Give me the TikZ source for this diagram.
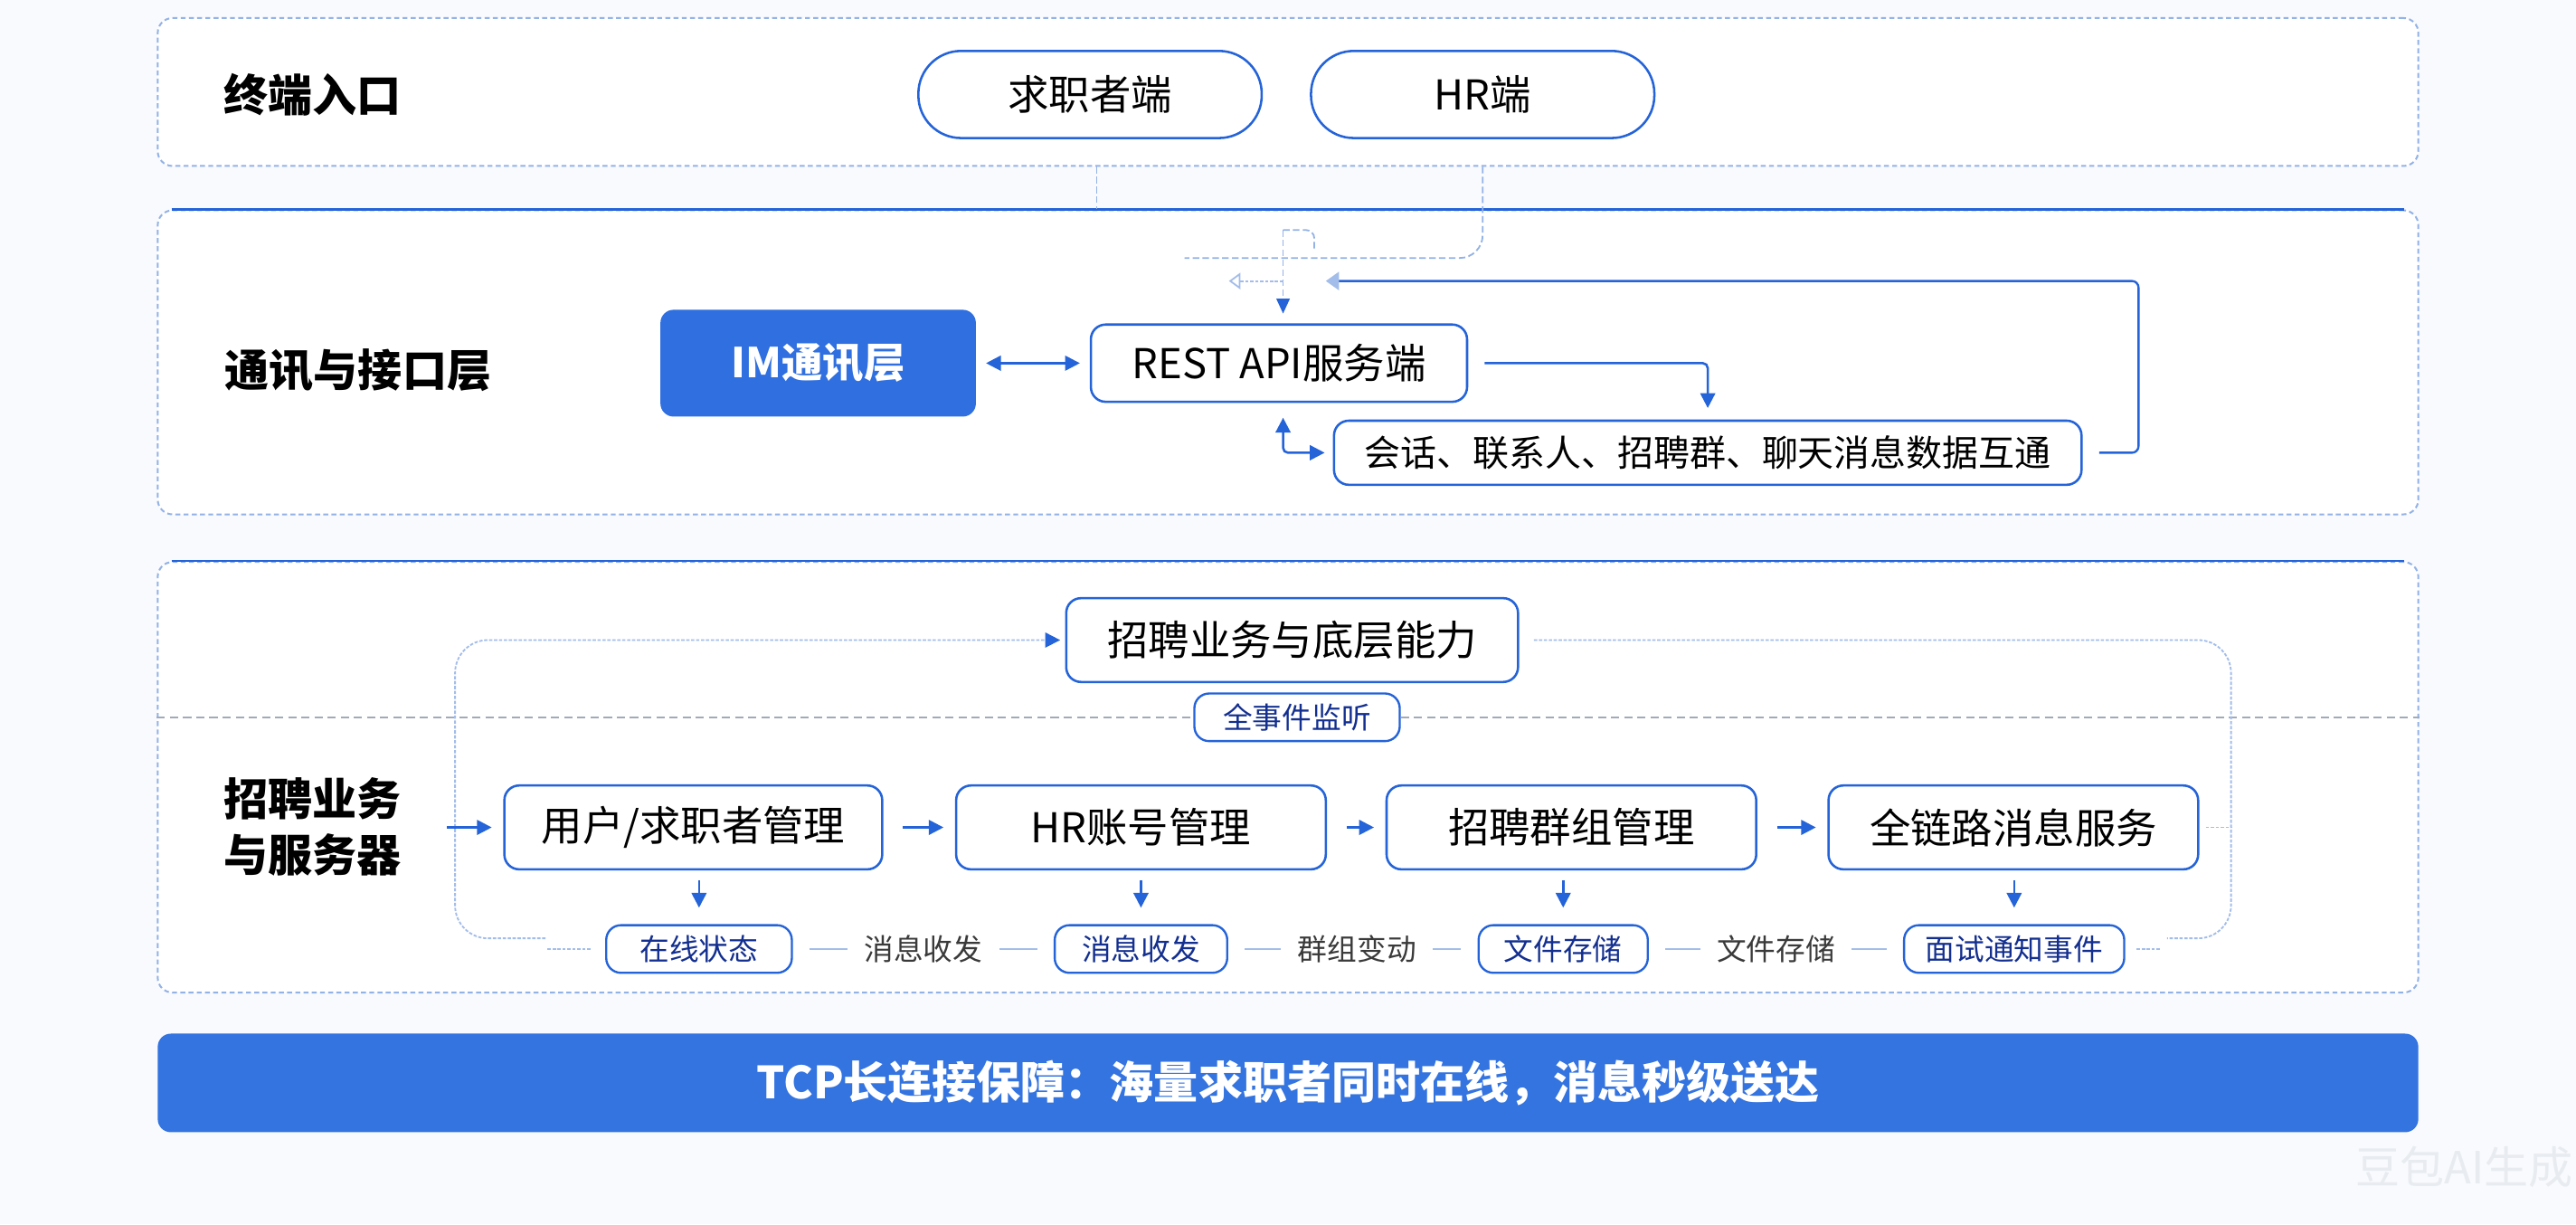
\documentclass[tikz,border=0pt]{standalone}
\usepackage{fontspec}
\setmainfont{Noto Sans CJK SC}
\usetikzlibrary{arrows.meta,calc}
\definecolor{bgc}{HTML}{F8FAFD}
\definecolor{mainblue}{HTML}{2463D8}
\definecolor{fillblue}{HTML}{2F6FE0}
\definecolor{barblue}{HTML}{3474E0}
\definecolor{panelline}{HTML}{93B2E6}
\definecolor{lightline}{HTML}{A3BDEA}
\definecolor{graydash}{HTML}{A2AABA}
\definecolor{navy}{HTML}{132F8F}
\definecolor{grytext}{HTML}{3A3A3A}
\definecolor{wm}{HTML}{E8EBF0}
\newcommand{\myfs}[1]{\fontsize{#1pt}{#1pt}\selectfont}
\begin{document}
\begin{tikzpicture}[x=1pt,y=-1pt,
  >={Triangle[length=9pt,width=9pt]},
  layerpanel/.style={draw=panelline, line width=1.1pt, dash pattern=on 3pt off 2pt, rounded corners=9pt, fill=white, inner sep=0pt, minimum width=1376pt},
  topline/.style={draw=mainblue, line width=1.4pt},
  layertitle/.style={font=\myfs{27}\bfseries, inner sep=0pt, align=center},
  mainbox/.style={draw=mainblue, line width=1.4pt, rounded corners=9pt, fill=white, inner sep=0pt, font=\myfs{25}},
  tagbox/.style={draw=mainblue, line width=1.3pt, rounded corners=9pt, fill=white, inner sep=0pt, minimum height=29pt, font=\myfs{18}, text=navy},
  midtext/.style={inner sep=0pt, font=\myfs{18}, text=grytext},
  arrowline/.style={draw=mainblue, line width=1.4pt, ->},
  link/.style={draw=lightline, line width=1.4pt},
  loopline/.style={draw=lightline, line width=1pt, dash pattern=on 2pt off 1pt},
  dashv/.style={draw=panelline, line width=1pt, dash pattern=on 4pt off 2pt},
  graydashed/.style={draw=graydash, line width=1.2pt, dash pattern=on 5pt off 3pt}
]
\useasboundingbox (0,0) rectangle (1568,745);
\fill[bgc] (0,0) rectangle (1568,745);

% panels
\node[layerpanel, minimum height=90pt] (p1) at (784,56) {};
\node[layerpanel, minimum height=185pt] (p2) at (784,220.5) {};
\node[layerpanel, minimum height=262pt] (p3) at (784,473) {};
\draw[topline] ([xshift=9pt]p2.north west) -- ([xshift=-9pt]p2.north east);
\draw[topline] ([xshift=9pt]p3.north west) -- ([xshift=-9pt]p3.north east);

% layer 1
\node[layertitle] (t1) at (190,57.5) {终端入口};
\node[mainbox, rounded corners=26pt, minimum width=209pt, minimum height=53pt] (seeker) at (663.5,57.5) {求职者端};
\node[mainbox, rounded corners=26pt, minimum width=209pt, minimum height=53pt] (hrend) at (902.5,57.5) {HR端};

% layer 2
\node[layertitle] (t2) at (218,225.5) {通讯与接口层};
\node[fill=fillblue, rounded corners=8pt, minimum width=192pt, minimum height=65pt, text=white, font=\myfs{25}\bfseries, inner sep=0pt] (im) at (498,221) {IM通讯层};
\node[mainbox, minimum width=229pt, minimum height=47pt] (rest) at (778.5,221) {REST API服务端};
\node[mainbox, minimum width=455pt, minimum height=39pt, font=\myfs{22}] (conv) at (1039.5,275.5) {会话、联系人、招聘群、聊天消息数据互通};

% layer 3
\node[layertitle, font=\fontsize{27pt}{34pt}\selectfont\bfseries] (t3) at (190,503) {招聘业务\\与服务器};
\node[mainbox, minimum width=275pt, minimum height=51pt] (cap) at (786.5,389.5) {招聘业务与底层能力};
\node[tagbox, minimum width=125pt] (listen) at (789.5,436.5) {全事件监听};
\node[mainbox, minimum width=230pt, minimum height=51pt] (user) at (422,503.5) {用户/求职者管理};
\node[mainbox, minimum width=225pt, minimum height=51pt] (hracct) at (694.5,503.5) {HR账号管理};
\node[mainbox, minimum width=225pt, minimum height=51pt] (group) at (956.5,503.5) {招聘群组管理};
\node[mainbox, minimum width=225pt, minimum height=51pt] (fullmsg) at (1225.5,503.5) {全链路消息服务};
\node[tagbox, minimum width=113pt] (online) at (425.5,577.5) {在线状态};
\node[tagbox, minimum width=105pt] (msgtag) at (694.5,577.5) {消息收发};
\node[tagbox, minimum width=103pt] (filetag) at (951.5,577.5) {文件存储};
\node[tagbox, minimum width=134pt] (interview) at (1226,577.5) {面试通知事件};
\node[midtext] (m1) at (562,577.5) {消息收发};
\node[midtext] (m2) at (826,577.5) {群组变动};
\node[midtext] (m3) at (1081,577.5) {文件存储};

% bottom bar
\node[fill=barblue, rounded corners=8pt, minimum width=1376pt, minimum height=60pt, inner sep=0pt, text=white, font=\myfs{27}\bfseries] (bar) at (784,659) {TCP长连接保障：海量求职者同时在线，消息秒级送达};
\node[text=wm, font=\myfs{27}, inner sep=0pt] (wmk) at (1500,710) {豆包AI生成};

% connectors between layer 1 and 2
\coordinate (sk) at ([xshift=4pt]seeker.south);
\draw[dashv] (sk |- p1.south) -- (sk |- p2.north);
\coordinate (hrdashend) at (721,157);
\draw[dashv, rounded corners=14pt] (hrend.south |- p1.south) -- (hrend.south |- hrdashend) -- (hrdashend);

% layer 2 connectors
\coordinate (apiIn) at (781,140);
\coordinate (ret) at (807,171);
\draw[dashv, -{Triangle[length=9pt,width=8pt,color=mainblue]}, shorten >=6pt] (apiIn) -- (apiIn |- rest.north);
\draw[dashv, rounded corners=5pt] (apiIn) -- ++(19,0) -- ++(0,12);
\draw[loopline, -{Triangle[open,length=7pt,width=10pt]}] (apiIn |- ret) -- ++(-33,0);
\draw[arrowline, <->, shorten <=6pt, shorten >=6pt] (im) -- (rest);
\draw[arrowline, rounded corners=3pt, shorten <=10pt] (rest.east) -| ([yshift=7pt]conv.north);
\draw[arrowline, <->, rounded corners=3pt] ([xshift=2.5pt,yshift=-9pt]rest.south) |- ([xshift=-5pt]conv.west);
\draw[draw=mainblue, line width=1.3pt, rounded corners=4pt, -{Triangle[length=8pt,width=11pt,color=lightline]}] ([xshift=10pt]conv.east) -- ++(24,0) |- (ret);

% layer 3 connectors
\draw[graydashed] (p3.west |- listen.center) -- (listen.west);
\draw[graydashed] (listen.east) -- (p3.east |- listen.center);
\coordinate (loopA) at (332,571);
\coordinate (loopB) at (1319,571);
\draw[loopline, rounded corners=20pt, -{Triangle[length=9pt,width=9pt,color=mainblue]}] (loopA) -- (277,571) -- (277,389.5) -- ([xshift=-3pt]cap.west);
\draw[loopline, rounded corners=20pt] ([xshift=9pt]cap.east) -- (1358,389.5) -- (1358,571) -- (loopB);
\draw[loopline] ([xshift=-9pt]online.west) -- ([xshift=-35pt]online.west);
\draw[loopline] ([xshift=7pt]interview.east) -- ([xshift=21pt]interview.east);
\draw[loopline] ([xshift=4pt]fullmsg.east) -- ([xshift=20pt]fullmsg.east);

\coordinate (entry) at (272,503.5);
\draw[arrowline, shorten >=7pt] (entry) -- (user);
\draw[arrowline, shorten <=12pt, shorten >=7pt] (user) -- (hracct);
\draw[arrowline, shorten <=12pt, shorten >=7pt] (hracct) -- (group);
\draw[arrowline, shorten <=12pt, shorten >=7pt] (group) -- (fullmsg);
\draw[arrowline, shorten <=6pt, shorten >=10pt] (online |- user.south) -- (online.north);
\draw[arrowline, shorten <=6pt, shorten >=10pt] (msgtag |- hracct.south) -- (msgtag.north);
\draw[arrowline, shorten <=6pt, shorten >=10pt] (filetag |- group.south) -- (filetag.north);
\draw[arrowline, shorten <=6pt, shorten >=10pt] (interview |- fullmsg.south) -- (interview.north);

\draw[link, shorten <=10pt, shorten >=10pt] (online) -- (m1);
\draw[link, shorten <=10pt, shorten >=10pt] (m1) -- (msgtag);
\draw[link, shorten <=10pt, shorten >=10pt] (msgtag) -- (m2);
\draw[link, shorten <=10pt, shorten >=10pt] (m2) -- (filetag);
\draw[link, shorten <=10pt, shorten >=10pt] (filetag) -- (m3);
\draw[link, shorten <=10pt, shorten >=10pt] (m3) -- (interview);
\end{tikzpicture}
\end{document}
